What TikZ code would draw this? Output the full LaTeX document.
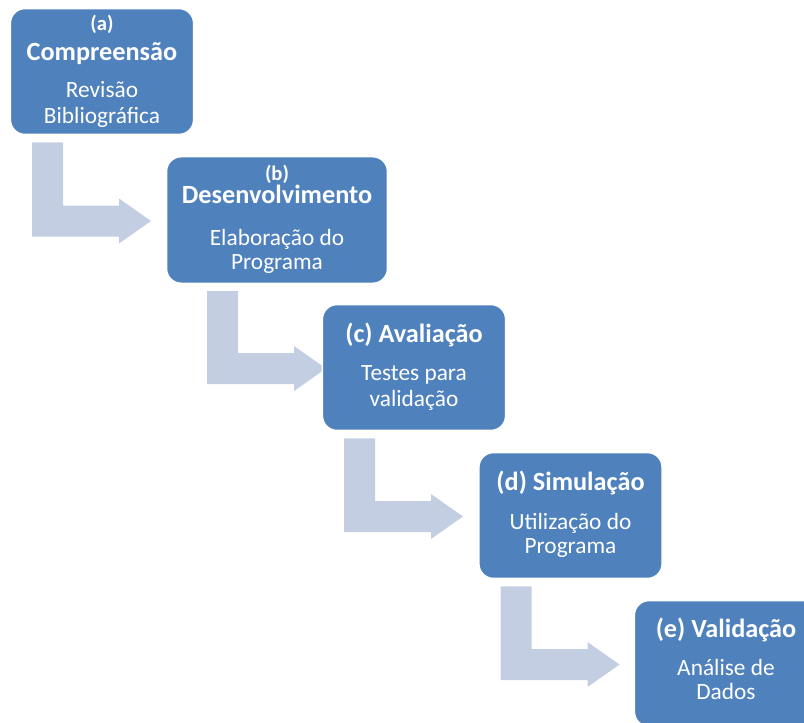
\documentclass[tikz,border=0pt]{standalone}
\usepackage{fontspec}
\setmainfont{Carlito}
\usetikzlibrary{positioning,calc,backgrounds}
\definecolor{stageblue}{RGB}{79,129,189}
\definecolor{flowblue}{RGB}{195,206,227}
\tikzset{
  stage/.style={draw=white, line width=1.2pt, fill=stageblue, rounded corners=11pt,
    inner sep=0pt, minimum width=137.5pt, minimum height=94.5pt},
  flow/.style={fill=flowblue},
  stagelbl/.style={anchor=base, text=white, inner sep=0pt, font=\bfseries\fontsize{15.5}{16}\selectfont},
  stagehead/.style={anchor=base, text=white, inner sep=0pt, font=\bfseries\fontsize{19.7}{20}\selectfont},
  stagetext/.style={anchor=base, text=white, inner sep=0pt, font=\fontsize{17.5}{18}\selectfont}
}
% bent arrow from below one stage to the left side of the next
\newcommand{\flowarrow}[2]{%
  \coordinate (#1-s) at ($(#1.south)+(-70,7)$);
  \coordinate (#1-t) at ($(#1-s |- #2.west)+(119,1)$);
  \begin{scope}[on background layer]
  \fill[flow] (#1-s) -- ++(31,0) |- ($(#1-t)+(-32,-15.5)$) -- ++(0,-7) -- (#1-t)
    -- ++(-32,22.5) -- ++(0,-7) -| (#1-s) -- cycle;
  \end{scope}
}

\begin{document}
\begin{tikzpicture}[x=0.75pt, y=-0.75pt]
    \useasboundingbox (0,0) rectangle (804,722);
    \clip (0,0) rectangle (804,722);
    %
    \coordinate (a) at (102,71.5);
    \coordinate (b) at (277,220);
    \coordinate (c) at (414,367.5);
    \coordinate (d) at (570.5,515.5);
    \coordinate (e) at (726,663.5);
    \node[stage] (A) at (a) {};
    \node[stage, minimum width=165.75pt, minimum height=95pt] (B) at (b) {};
    \node[stage] (C) at (c) {};
    \node[stage] (D) at (d) {};
    \node[stage] (E) at (e) {};
    %
    \flowarrow{A}{B}
    \flowarrow{B}{C}
    \flowarrow{C}{D}
    \flowarrow{D}{E}
    %
    \node[stagelbl]  (A-lbl)  at ($(A.north)+(0,23)$)  {(a)};
    \node[stagehead] (A-head) at ($(A.north)+(0,53)$)  {Compreensão};
    \node[stagetext] (A-l1)   at ($(A.north)+(0,90)$)  {Revisão};
    \node[stagetext] (A-l2)   at ($(A.north)+(0,116)$) {Bibliográfica};
    %
    \node[stagelbl]  (B-lbl)  at ($(B.north)+(0,25)$)  {(b)};
    \node[stagehead] (B-head) at ($(B.north)+(0,48)$)  {Desenvolvimento};
    \node[stagetext] (B-l1)   at ($(B.north)+(0,90)$)  {Elaboração do};
    \node[stagetext] (B-l2)   at ($(B.north)+(0,114)$) {Programa};
    %
    \node[stagehead] (C-head) at ($(C.north)+(0,38.5)$)  {(c) Avaliação};
    \node[stagetext] (C-l1)   at ($(C.north)+(0,77)$)    {Testes para};
    \node[stagetext] (C-l2)   at ($(C.north)+(0,102.5)$) {validação};
    %
    \node[stagehead] (D-head) at ($(D.north)+(0,38.5)$)  {(d) Simulação};
    \node[stagetext] (D-l1)   at ($(D.north)+(0,77.5)$)  {Utilização do};
    \node[stagetext] (D-l2)   at ($(D.north)+(0,102)$)   {Programa};
    %
    \node[stagehead] (E-head) at ($(E.north)+(0,38)$)  {(e) Validação};
    \node[stagetext] (E-l1)   at ($(E.north)+(0,76)$)  {Análise de};
    \node[stagetext] (E-l2)   at ($(E.north)+(0,100)$) {Dados};
\end{tikzpicture}
\end{document}
